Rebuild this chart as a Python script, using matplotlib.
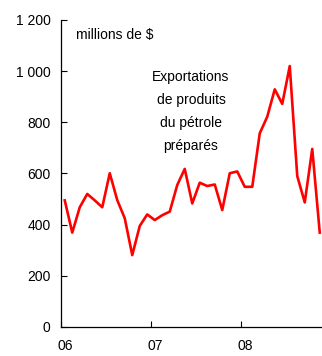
import matplotlib
matplotlib.use("Agg")
import matplotlib.pyplot as plt
import matplotlib.transforms as mtransforms

# exportations mensuelles, janvier 2006 à novembre 2008 (millions de $)
valeurs = [495, 369, 468, 520, 495, 468, 601, 496, 425, 281, 395, 440,
           418, 437, 451, 555, 618, 483, 564, 551, 557, 457, 601, 608,
           548, 548, 757, 822, 929, 872, 1020, 590, 487, 696, 369]
annees = ["06", "07", "08"]
graduations_y = [0, 200, 400, 600, 800, 1000, 1200]

plt.rcParams["font.family"] = ["Liberation Sans", "DejaVu Sans"]

fig = plt.figure(figsize=(3.22, 3.56), dpi=100)
ax = fig.add_axes([61 / 322, 29 / 356, 270 / 322, 307 / 356])

mois = [i + 0.5 for i in range(len(valeurs))]
ax.plot(mois, valeurs, color="#ff0000", linewidth=1.9, clip_on=False)

ax.set_xlim(0, 36)
ax.set_ylim(0, 1200)

ax.set_yticks(graduations_y)
ax.set_yticklabels([f"{v:,}".replace(",", " ") for v in graduations_y])
ax.set_xticks([0, 12, 24])
ax.set_xticklabels(annees)

ax.tick_params(axis="both", direction="in", length=4, width=0.8,
               labelsize=10, colors="black")
ax.tick_params(axis="y", pad=7.5)
ax.tick_params(axis="x", pad=9)

# décalage léger des étiquettes d'années vers la droite
decalage = mtransforms.ScaledTranslation(4.5 / 100, 0, fig.dpi_scale_trans)
for lab in ax.get_xticklabels():
    lab.set_transform(lab.get_transform() + decalage)

for side in ["top", "right"]:
    ax.spines[side].set_visible(False)
for side in ["left", "bottom"]:
    ax.spines[side].set_linewidth(0.9)

ax.text(2.0, 1141, "millions de $", fontsize=10, ha="left", va="center")
ax.text(17.33, 842, "Exportations\nde produits\ndu pétrole\npréparés",
        fontsize=10, ha="center", va="center", multialignment="center",
        linespacing=1.8)

fig.savefig("out.png", dpi=100)
